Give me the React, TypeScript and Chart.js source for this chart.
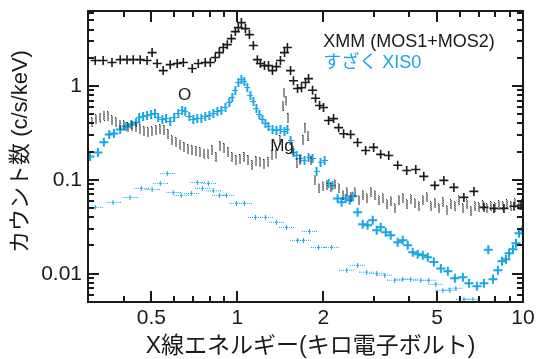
import { useEffect, useRef } from 'react';
import { Chart, registerables } from 'chart.js';

Chart.register(...registerables);

// ---- data (energy in keV, counts in c/s/keV) ----
const xmmEnergy = [0.318,0.339,0.364,0.389,0.411,0.432,0.457,0.483,0.503,0.524,0.550,0.582,0.616,0.647,0.695,0.730,0.772,0.804,0.837,0.865,0.893,0.922,0.953,0.984,1.008,1.033,1.067,1.102,1.138,1.175,1.204,1.244,1.285,1.327,1.370,1.415,1.462,1.497,1.535,1.572,1.624,1.677,1.732,1.775,1.833,1.878,1.940,2.003,2.086,2.172,2.262,2.355,2.492,2.636,2.812,3.000,3.175,3.388,3.642,3.917,4.213,4.494,4.912,5.282,5.728,6.209,6.732,7.298,7.912,8.578,9.299,9.84];
const xmmCounts = [1.87,1.87,1.78,1.91,1.91,1.91,1.91,1.87,2.27,1.74,1.46,1.69,1.74,1.78,1.54,1.74,1.78,1.78,2.01,2.27,2.57,2.76,3.20,3.80,4.19,4.74,4.09,3.53,2.70,1.91,1.74,1.65,1.65,1.46,1.61,1.87,2.27,2.57,1.46,1.14,0.94,0.96,1.09,1.20,0.90,0.74,0.62,0.59,0.43,0.45,0.36,0.31,0.305,0.25,0.206,0.222,0.187,0.182,0.143,0.126,0.129,0.109,0.0874,0.0988,0.0832,0.0651,0.0754,0.051,0.0497,0.0497,0.0523,0.0535];

const xmmBgEnergy = [0.310,0.320,0.331,0.341,0.353,0.364,0.376,0.389,0.401,0.414,0.428,0.442,0.457,0.472,0.487,0.503,0.520,0.537,0.555,0.573,0.591,0.611,0.631,0.652,0.673,0.695,0.718,0.742,0.766,0.791,0.817,0.844,0.872,0.900,0.930,0.960,0.992,1.024,1.058,1.093,1.129,1.166,1.204,1.244,1.285,1.327,1.370,1.415,1.439,1.462,1.486,1.510,1.560,1.611,1.663,1.704,1.732,1.761,1.804,1.863,1.924,1.987,2.053,2.120,2.190,2.262,2.336,2.413,2.492,2.574,2.658,2.746,2.836,2.928,3.025,3.124,3.227,3.333,3.442,3.555,3.672,3.793,3.917,4.046,4.179,4.316,4.458,4.604,4.756,4.912,5.073,5.240,5.412,5.590,5.774,5.963,6.159,6.362,6.571,6.787,7.010,7.240,7.478,7.724,7.977,8.240,8.510,8.790,9.080,9.373,9.683,9.92];
const xmmBgCounts = [0.409,0.440,0.462,0.485,0.474,0.430,0.409,0.389,0.380,0.362,0.371,0.362,0.345,0.328,0.320,0.328,0.336,0.345,0.336,0.305,0.263,0.251,0.238,0.222,0.211,0.206,0.201,0.196,0.191,0.191,0.206,0.174,0.227,0.216,0.196,0.174,0.161,0.165,0.174,0.161,0.143,0.157,0.154,0.146,0.154,0.182,0.191,0.263,0.620,0.853,0.701,0.451,0.206,0.150,0.161,0.263,0.353,0.297,0.161,0.0988,0.0812,0.0853,0.0874,0.0832,0.0896,0.0812,0.0684,0.0736,0.0651,0.0736,0.0605,0.0684,0.0635,0.0736,0.0684,0.0605,0.0635,0.0549,0.0591,0.0497,0.0605,0.0635,0.0549,0.0620,0.0562,0.0523,0.0605,0.0651,0.0523,0.0562,0.0497,0.0576,0.0474,0.0549,0.0523,0.0605,0.0497,0.0549,0.0462,0.0523,0.0510,0.0535,0.0497,0.0523,0.0510,0.0535,0.0523,0.0549,0.0523,0.0562,0.0535,0.0549];

const xisEnergy = [0.305,0.325,0.341,0.356,0.370,0.389,0.408,0.425,0.442,0.453,0.468,0.483,0.499,0.515,0.528,0.546,0.563,0.582,0.601,0.621,0.641,0.657,0.679,0.701,0.724,0.748,0.772,0.798,0.824,0.851,0.879,0.908,0.937,0.960,0.984,1.008,1.033,1.058,1.084,1.111,1.138,1.166,1.194,1.224,1.254,1.285,1.327,1.370,1.415,1.462,1.497,1.535,1.572,1.611,1.663,1.718,1.775,1.833,1.893,1.955,2.020,2.086,2.154,2.244,2.317,2.393,2.472,2.533,2.636,2.746,2.858,2.977,3.074,3.175,3.306,3.442,3.642,3.793,3.950,4.111,4.281,4.458,4.642,4.873,5.156,5.456,5.774,6.159,6.465,6.898,7.298,7.56,7.849,8.171,8.440,8.720,8.933,9.226,9.450,9.683,9.95];
const xisCounts = [0.178,0.196,0.251,0.305,0.312,0.345,0.371,0.389,0.409,0.462,0.474,0.485,0.497,0.510,0.462,0.440,0.451,0.419,0.462,0.510,0.549,0.536,0.474,0.440,0.451,0.451,0.474,0.485,0.510,0.536,0.549,0.591,0.668,0.755,0.896,1.089,1.173,1.117,0.964,0.792,0.684,0.576,0.497,0.440,0.399,0.371,0.345,0.336,0.345,0.328,0.345,0.263,0.196,0.182,0.169,0.161,0.174,0.169,0.123,0.154,0.161,0.0918,0.0874,0.0635,0.0576,0.0635,0.0605,0.0668,0.0451,0.0336,0.0328,0.0371,0.0290,0.0312,0.0276,0.0257,0.0216,0.0227,0.0201,0.0169,0.0161,0.0157,0.0150,0.0133,0.0114,0.0106,0.00896,0.00918,0.00793,0.00736,0.00793,0.018,0.00874,0.0109,0.0136,0.0143,0.0165,0.0182,0.0211,0.0270,0.0290];

const xisBgEnergy = [0.318,0.367,0.421,0.461,0.503,0.537,0.568,0.596,0.636,0.690,0.724,0.754,0.791,0.824,0.865,0.915,0.992,1.058,1.157,1.254,1.370,1.486,1.624,1.704,1.789,1.924,2.137,2.413,2.636,2.836,3.074,3.280,3.555,3.793,4.046,4.386,4.679,4.951,5.240,5.545,5.821,6.209,6.677];
const xisBgCounts = [0.0510,0.0576,0.0651,0.0812,0.0793,0.0918,0.117,0.0736,0.0684,0.0718,0.0940,0.0812,0.0918,0.0764,0.0684,0.0684,0.0562,0.0562,0.0399,0.0399,0.0353,0.0312,0.0227,0.0227,0.0283,0.0191,0.0191,0.0109,0.0123,0.0104,0.0101,0.00964,0.00853,0.00874,0.00874,0.00853,0.00853,0.00773,0.00668,0.00668,0.00701,0.00535,0.00535];

const xRange = [0.3, 10];
const yRange = [0.005, 6.3];
const xTickLabels = [0.5, 1, 2, 5, 10];
const yTickLabels = [0.01, 0.1, 1];

const lineLabels = ['O', 'Mg'];
const lineLabelEnergy = [0.654, 1.433];
const lineLabelCounts = [0.792, 0.23];

const legendTexts = ['XMM (MOS1+MOS2)', 'すざく XIS0'];
const legendEnergy = 2.0;
const legendCounts = [2.94, 1.76];

const xTitle = 'X線エネルギー(キロ電子ボルト)';
const yTitle = 'カウント数 (c/s/keV)';

// ---- styles ----
const BLACK = '#1a1a1a';
const BLUE = '#17a6e6';
const FONT = "'Liberation Sans', 'Noto Sans CJK JP', Arial, sans-serif";

function marker(w: number, h: number, draw: (g: CanvasRenderingContext2D) => void) {
  const c = document.createElement('canvas');
  c.width = w;
  c.height = h;
  const g = c.getContext('2d') as CanvasRenderingContext2D;
  draw(g);
  return c;
}

function minorTicks(lo: number, hi: number) {
  const out: number[] = [];
  for (let d = Math.floor(Math.log10(lo)); d <= Math.ceil(Math.log10(hi)); d++) {
    for (let m = 1; m <= 9; m++) {
      const v = m * Math.pow(10, d);
      if (v > lo * 1.001 && v < hi * 0.999) out.push(v);
    }
  }
  return out;
}

const pts = (xs: number[], ys: number[]) => xs.map((x, i) => ({ x, y: ys[i] }));

const framePlugin = {
  id: 'frame',
  afterDraw(chart: any) {
    const { ctx, chartArea: a, scales } = chart;
    const x = scales.x;
    const y = scales.y;
    ctx.save();
    // annotations
    ctx.fillStyle = BLACK;
    ctx.textAlign = 'center';
    ctx.textBaseline = 'middle';
    ctx.font = `17px ${FONT}`;
    lineLabels.forEach((t, i) => {
      ctx.fillText(t, x.getPixelForValue(lineLabelEnergy[i]), y.getPixelForValue(lineLabelCounts[i]));
    });
    ctx.font = `18px ${FONT}`;
    ctx.textAlign = 'left';
    ctx.fillText(legendTexts[0], x.getPixelForValue(legendEnergy), y.getPixelForValue(legendCounts[0]));
    ctx.fillStyle = BLUE;
    ctx.fillText(legendTexts[1], x.getPixelForValue(legendEnergy), y.getPixelForValue(legendCounts[1]));

    // axis titles
    ctx.fillStyle = BLACK;
    ctx.font = `23px ${FONT}`;
    ctx.textAlign = 'center';
    ctx.textBaseline = 'middle';
    ctx.fillText(xTitle, (a.left + a.right) / 2 + 5, chart.height - 12);
    ctx.save();
    ctx.translate(21, (a.top + a.bottom) / 2 - 5);
    ctx.rotate(-Math.PI / 2);
    ctx.font = `22px ${FONT}`;
    ctx.fillText(yTitle, 0, 0);
    ctx.restore();

    // frame
    ctx.strokeStyle = BLACK;
    ctx.lineWidth = 2;
    ctx.strokeRect(a.left, a.top, a.right - a.left, a.bottom - a.top);
    const isMajor = (v: number, list: number[]) => list.some((m) => Math.abs(m - v) / m < 1e-6);
    ctx.beginPath();
    minorTicks(xRange[0], xRange[1]).forEach((v) => {
      const p = Math.round(x.getPixelForValue(v));
      const len = isMajor(v, xTickLabels) ? 11 : 6;
      ctx.moveTo(p, a.bottom);
      ctx.lineTo(p, a.bottom - len);
      ctx.moveTo(p, a.top);
      ctx.lineTo(p, a.top + len);
    });
    minorTicks(yRange[0], yRange[1]).forEach((v) => {
      const p = Math.round(y.getPixelForValue(v));
      const len = isMajor(v, yTickLabels) ? 11 : 6;
      ctx.moveTo(a.left, p);
      ctx.lineTo(a.left + len, p);
      ctx.moveTo(a.right, p);
      ctx.lineTo(a.right - len, p);
    });
    ctx.stroke();
    ctx.restore();
  },
};

export default function App() {
  const ref = useRef<HTMLCanvasElement | null>(null);

  useEffect(() => {
    document.body.style.margin = '0';
    const canvas = ref.current;
    if (!canvas) return;

    const dotV = marker(2, 10, (g) => {
      g.fillStyle = '#262626';
      for (let yy = 0; yy < 10; yy += 1) g.fillRect(yy % 2, yy, 1, 1);
    });
    const bgBlue = marker(15, 5, (g) => {
      g.fillStyle = BLUE;
      for (let xx = 0; xx < 15; xx += 2) g.fillRect(xx, 2, 1, 1);
      g.fillRect(7, 0, 1, 5);
    });
    const barBlue = marker(6, 9, (g) => {
      g.fillStyle = BLUE;
      g.fillRect(2, 0, 2, 9);
      g.fillRect(0, 4, 6, 1);
    });
    const isCross = (c: any) => {
      const e = c && c.raw ? c.raw.x : 1;
      return e < 0.445 || e > 2.2;
    };

    const chart = new Chart(canvas, {
      type: 'scatter',
      data: {
        datasets: [
          {
            label: 'XMM background',
            data: pts(xmmBgEnergy, xmmBgCounts),
            pointStyle: dotV as any,
            pointRadius: 4,
            showLine: false,
          },
          {
            label: 'XIS0 background',
            data: pts(xisBgEnergy, xisBgCounts),
            pointStyle: bgBlue as any,
            pointRadius: 4,
            showLine: false,
          },
          {
            label: 'すざく XIS0',
            data: pts(xisEnergy, xisCounts),
            pointStyle: ((c: any) => (isCross(c) ? 'cross' : barBlue)) as any,
            pointRadius: 4.5,
            pointBorderWidth: 2,
            borderColor: BLUE,
            backgroundColor: BLUE,
            showLine: false,
          },
          {
            label: 'XMM (MOS1+MOS2)',
            data: pts(xmmEnergy, xmmCounts),
            pointStyle: 'cross',
            pointRadius: 4.5,
            pointBorderWidth: 1.6,
            borderColor: BLACK,
            backgroundColor: BLACK,
            showLine: false,
          },
        ],
      },
      options: {
        responsive: false,
        animation: false,
        events: [],
        layout: { padding: { left: 0, right: 16, top: 11, bottom: 0 } },
        plugins: { legend: { display: false }, tooltip: { enabled: false } },
        scales: {
          x: {
            type: 'logarithmic',
            min: xRange[0],
            max: xRange[1],
            grid: { display: false, drawTicks: false },
            border: { display: false },
            afterBuildTicks: (s: any) => {
              s.ticks = xTickLabels.map((v) => ({ value: v }));
            },
            afterFit: (s: any) => {
              s.height = 57;
              s.paddingLeft = 0;
              s.paddingRight = 0;
            },
            ticks: {
              autoSkip: false,
              maxRotation: 0,
              padding: 4,
              color: BLACK,
              font: { size: 21, family: FONT },
              callback: (v: any) => String(v),
            },
          },
          y: {
            type: 'logarithmic',
            min: yRange[0],
            max: yRange[1],
            grid: { display: false, drawTicks: false },
            border: { display: false },
            afterBuildTicks: (s: any) => {
              s.ticks = yTickLabels.map((v) => ({ value: v }));
            },
            afterFit: (s: any) => {
              s.width = 88;
              s.paddingTop = 0;
              s.paddingBottom = 0;
            },
            ticks: {
              autoSkip: false,
              padding: 6,
              color: BLACK,
              font: { size: 21, family: FONT },
              callback: (v: any) => String(v),
            },
          },
        },
      },
      plugins: [framePlugin],
    } as any);

    return () => chart.destroy();
  }, []);

  return <canvas ref={ref} width={539} height={359} style={{ display: 'block' }} />;
}
